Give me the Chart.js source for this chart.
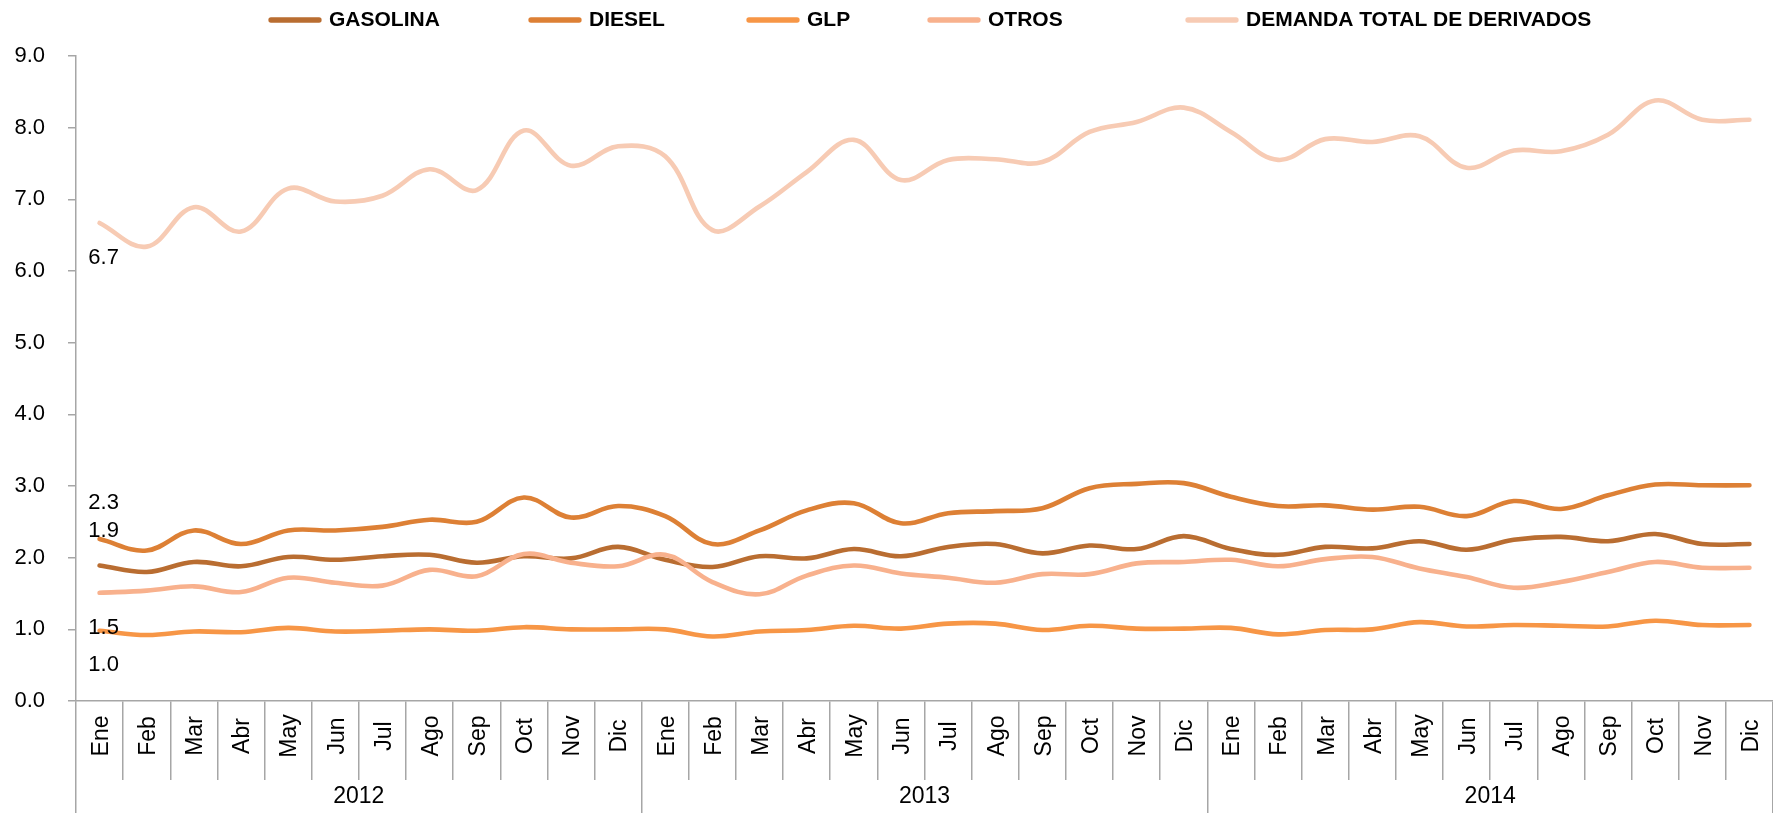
<!DOCTYPE html>
<html><head><meta charset="utf-8">
<script src="https://cdn.jsdelivr.net/npm/chart.js@4.4.0/dist/chart.umd.min.js"></script>
<style>html,body{margin:0;padding:0;background:#fff;overflow:hidden}#wrap{width:1773px;height:813px;position:relative}</style>
</head><body><div id="wrap"><canvas id="c"></canvas></div>
<script>
const months = ['Ene','Feb','Mar','Abr','May','Jun','Jul','Ago','Sep','Oct','Nov','Dic'];
const years = ['2012','2013','2014'];
const categories = years.flatMap(() => months);
const yTicks = [0,1,2,3,4,5,6,7,8,9];

const gasolina = [1.89,1.80,1.94,1.88,2.01,1.97,2.02,2.04,1.93,2.02,1.99,2.15,
                  1.97,1.87,2.02,1.99,2.12,2.02,2.15,2.19,2.06,2.17,2.12,2.30,
                  2.12,2.04,2.15,2.13,2.23,2.11,2.25,2.29,2.23,2.33,2.19,2.19];
const diesel   = [2.26,2.10,2.38,2.19,2.38,2.38,2.43,2.53,2.50,2.84,2.56,2.72,
                  2.58,2.19,2.38,2.66,2.76,2.48,2.62,2.65,2.69,2.97,3.03,3.04,
                  2.85,2.72,2.73,2.67,2.71,2.58,2.79,2.68,2.87,3.02,3.01,3.01];
const glp      = [0.98,0.92,0.97,0.96,1.02,0.97,0.98,1.00,0.98,1.03,1.00,1.00,
                  1.00,0.90,0.97,0.99,1.05,1.01,1.08,1.08,0.99,1.05,1.01,1.01,
                  1.02,0.93,0.99,1.00,1.10,1.04,1.06,1.05,1.04,1.12,1.06,1.06];
const otros    = [1.51,1.54,1.60,1.52,1.72,1.65,1.61,1.83,1.74,2.05,1.93,1.88,
                  2.04,1.66,1.49,1.75,1.89,1.78,1.72,1.65,1.77,1.77,1.92,1.94,
                  1.97,1.88,1.98,2.01,1.85,1.73,1.58,1.66,1.80,1.94,1.86,1.86];
const total    = [6.67,6.34,6.89,6.55,7.15,6.97,7.05,7.42,7.13,7.96,7.47,7.74,
                  7.60,6.57,6.90,7.38,7.83,7.27,7.55,7.56,7.52,7.94,8.08,8.28,
                  7.94,7.55,7.84,7.80,7.88,7.44,7.68,7.67,7.90,8.38,8.11,8.11];

const SANS = '"Liberation Sans",Arial,sans-serif';
const AXIS = '#a6a6a6';

const mk = (label, data, color, order, labelDy) => ({
  label, data, borderColor: color, backgroundColor: color, borderWidth: 4.6,
  pointRadius: 0, pointHoverRadius: 0, tension: 0.38, fill: false,
  borderCapStyle: 'round', borderJoinStyle: 'round', order, labelDy
});

const datasets = [
  mk('GASOLINA', gasolina, '#b96d31', 5, -35),
  mk('DIESEL', diesel, '#dd8035', 4, -36),
  mk('GLP', glp, '#f79646', 3, 34),
  mk('OTROS', otros, '#f8b18d', 2, 35),
  mk('DEMANDA TOTAL DE DERIVADOS', total, '#f7cbb4', 1, 35)
];

const firstLabels = {
  id: 'firstLabels',
  afterDatasetsDraw(chart) {
    const ctx = chart.ctx;
    ctx.save();
    ctx.font = '22px ' + SANS;
    ctx.fillStyle = '#000';
    ctx.textAlign = 'center';
    ctx.textBaseline = 'middle';
    chart.data.datasets.forEach((ds, i) => {
      const p = chart.getDatasetMeta(i).data[0];
      ctx.fillText(ds.data[0].toFixed(1), p.x + 4, p.y + ds.labelDy);
    });
    ctx.restore();
  }
};

const axisLabels = {
  id: 'axisLabels',
  afterDraw(chart) {
    const s = chart.scales.x, ctx = chart.ctx;
    ctx.save();
    ctx.fillStyle = '#000';
    ctx.font = '23px ' + SANS;
    ctx.textAlign = 'center';
    ctx.textBaseline = 'middle';
    categories.forEach((lab, i) => {
      const x = s.getPixelForTick(i);
      ctx.save();
      ctx.translate(x + 2, s.top + 35);
      ctx.rotate(-Math.PI / 2);
      ctx.fillText(lab, 0, 0);
      ctx.restore();
    });
    const s2 = chart.scales.x2;
    years.forEach((yr, k) => {
      const xc = (s.getPixelForTick(k * 12) + s.getPixelForTick(k * 12 + 11)) / 2;
      ctx.fillText(yr, xc, s2.top + 17);
    });
    ctx.restore();
  }
};

const legendSlots = [268, 528, 746, 927, 1185];
const customLegend = {
  id: 'customLegend',
  afterDraw(chart) {
    const ctx = chart.ctx;
    ctx.save();
    ctx.font = 'bold 21px ' + SANS;
    ctx.textBaseline = 'middle';
    ctx.textAlign = 'left';
    chart.data.datasets.forEach((ds, i) => {
      const x = legendSlots[i], y = 20;
      ctx.strokeStyle = ds.borderColor;
      ctx.lineWidth = 5.3;
      ctx.lineCap = 'round';
      ctx.beginPath(); ctx.moveTo(x + 3, y); ctx.lineTo(x + 51, y); ctx.stroke();
      ctx.fillStyle = '#000';
      ctx.fillText(ds.label, x + 61, y);
    });
    ctx.restore();
  }
};

new Chart(document.getElementById('c'), {
  type: 'line',
  data: { labels: categories, datasets },
  plugins: [firstLabels, axisLabels, customLegend],
  options: {
    responsive: true, maintainAspectRatio: false, animation: false,
    layout: { padding: { top: 56, left: 0, right: 0, bottom: 0 } },
    plugins: { legend: { display: false }, tooltip: { enabled: false } },
    scales: {
      x: {
        type: 'category', offset: true, weight: 0,
        grid: { offset: true, drawOnChartArea: false, drawTicks: true, tickLength: 79, color: AXIS, lineWidth: 1.5 },
        border: { display: true, color: AXIS, width: 1.5 },
        ticks: { display: false, autoSkip: false },
        afterFit(s) { s.height = 79; }
      },
      x2: {
        type: 'category', labels: years, position: 'bottom', offset: true, weight: 1,
        grid: { offset: true, drawOnChartArea: false, drawTicks: true, tickLength: 33, color: AXIS, lineWidth: 1.5 },
        border: { display: false },
        ticks: { display: false },
        afterFit(s) { s.height = 33; }
      },
      y: {
        min: 0, max: 9,
        afterBuildTicks(s) { s.ticks = yTicks.map(v => ({ value: v })); },
        grid: { drawOnChartArea: false, drawTicks: true, tickLength: 8, color: AXIS, lineWidth: 1.5 },
        border: { display: true, color: AXIS, width: 1.5 },
        ticks: { padding: 23, color: '#000', font: { family: SANS, size: 22 },
                 callback: v => Number(v).toFixed(1) },
        afterFit(s) { s.width = 76; }
      }
    }
  }
});
</script>
</body></html>
